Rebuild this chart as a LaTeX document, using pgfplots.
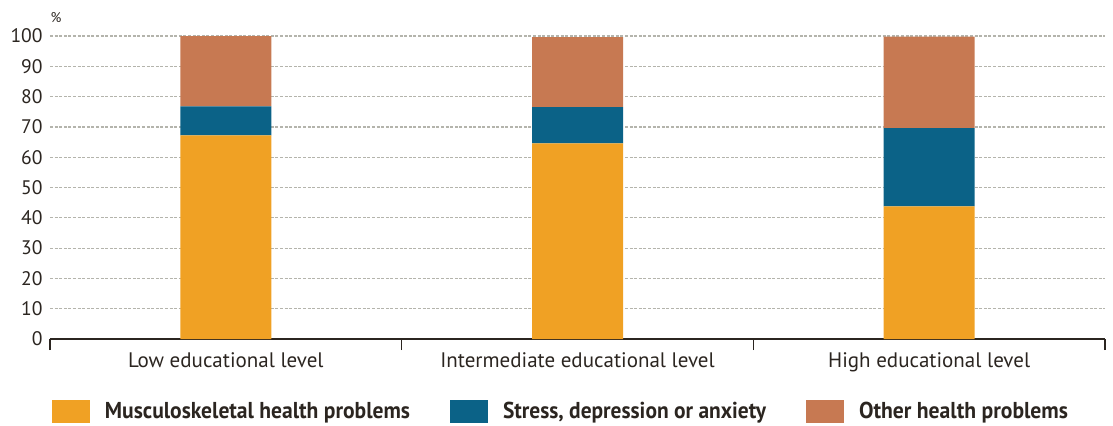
\documentclass[border=0pt]{standalone}
\usepackage{pgfplots}
\pgfplotsset{compat=1.18}
\usepackage{graphicx}
\usepackage{fontspec}
\setmainfont{PT Sans}
\definecolor{cOr}{HTML}{F0A124}
\definecolor{cBl}{HTML}{0B6287}
\definecolor{cBr}{HTML}{C77952}
\definecolor{cTx}{HTML}{2B2520}
\definecolor{cGr}{HTML}{B4B4AC}
\begin{document}
\begin{tikzpicture}
\useasboundingbox (-25pt,-43pt) rectangle (531.5pt,169.5pt);
\begin{axis}[
  name=ax,
  at={(0,0)}, anchor=south west,
  scale only axis, width=527.5pt, height=151.5pt,
  xmin=-0.5, xmax=2.5, ymin=0, ymax=100,
  ybar stacked, bar width=45.5pt,
  axis x line*=bottom, axis y line*=left,
  y axis line style={draw=none},
  x axis line style={cTx, line width=1pt, -},
  ytick={0,10,...,100},
  ymajorgrids,
  grid style={cGr, dash pattern=on 1.5pt off 0.8pt, line width=0.6pt},
  xtick={0,1,2},
  xticklabels={Low educational level, Intermediate educational level, High educational level},
  major tick length=0pt,
  minor xtick={-0.5,0.5,1.5,2.5},
  minor tick length=5.5pt,
  tick align=outside,
  minor x tick style={cTx, line width=0.6pt},
  /pgf/number format/assume math mode=true,
  ticklabel style={text=cTx},
  yticklabel style={font=\fontsize{9.8}{10}\selectfont, anchor=east, inner sep=0pt, xshift=-3.5pt},
  xticklabel style={font=\fontsize{10.5}{11}\selectfont, anchor=north, inner sep=0pt, yshift=-6.5pt},
  legend columns=3,
  legend style={at={(0,0)}, anchor=west, xshift=1pt, yshift=-36.25pt,
    draw=none, fill=none, inner sep=0pt, outer sep=0pt,
    nodes={inner sep=0pt},
    /tikz/every odd column/.append style={column sep=7.5pt},
    /tikz/every even column/.append style={column sep=20pt},
    font=\fontsize{11.5}{12}\selectfont\bfseries, text=cTx},
  legend image code/.code={\fill[#1] (0pt,-5.75pt) rectangle (19pt,5.75pt);},
]
\addplot[fill=cOr, draw=none] coordinates {(0,67.2) (1,64.6) (2,43.8)};
\addplot[fill=cBl, draw=none] coordinates {(0,9.6) (1,11.9) (2,25.8)};
\addplot[fill=cBr, draw=none] coordinates {(0,23.2) (1,23.1) (2,30.2)};
\legend{{\resizebox{152.5pt}{\height}{Musculoskeletal health problems}},
        {\resizebox{131.5pt}{\height}{Stress, depression or anxiety}},
        {\resizebox{104.5pt}{\height}{Other health problems}}}
\end{axis}
\node[font=\fontsize{7}{8}\selectfont, text=cTx] at ([xshift=3pt,yshift=9pt]ax.north west) {\%};
\end{tikzpicture}
\end{document}
